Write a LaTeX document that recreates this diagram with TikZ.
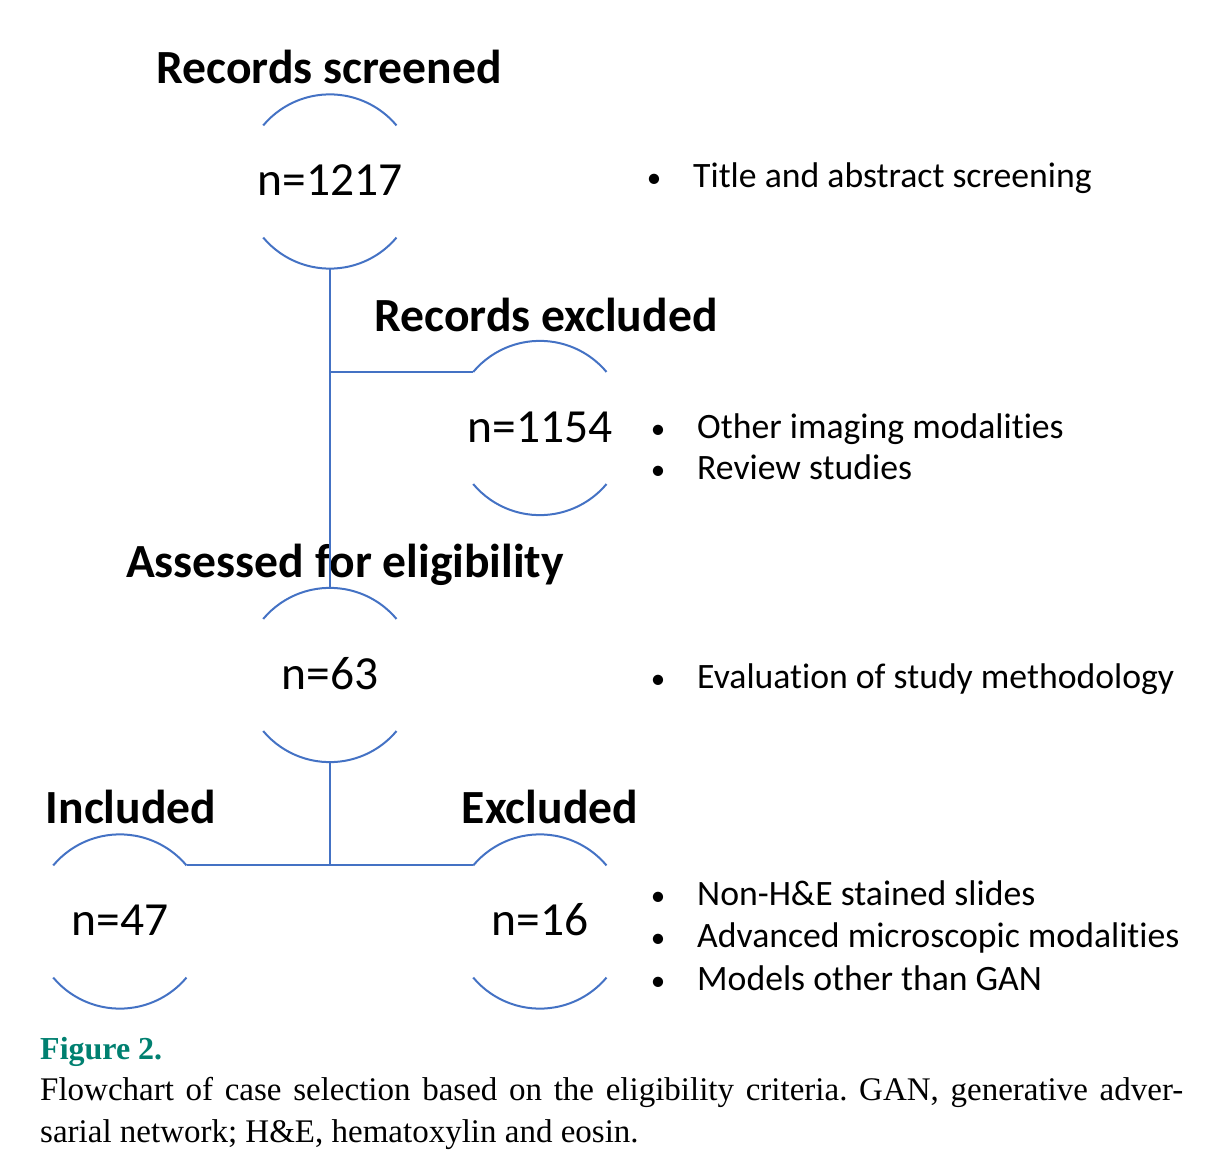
\documentclass[tikz,border=0pt]{standalone}
\usepackage{fontspec}
\setmainfont{Carlito}[Ligatures={NoCommon}]
\newfontfamily\capfont{Liberation Serif}
\definecolor{lineblue}{RGB}{68,114,196}
\definecolor{figteal}{RGB}{0,128,112}
\frenchspacing
\begin{document}
\begin{tikzpicture}[x=1pt,y=1pt,
  ring/.style={circle,draw=none,minimum size=174pt,inner sep=0pt},
  arcline/.style={draw=lineblue,line width=2pt},
  conn/.style={draw=lineblue,line width=2pt},
  head/.style={inner sep=0pt,anchor=base,font=\fontsize{47.6}{50}\selectfont\bfseries},
  count/.style={inner sep=0pt,anchor=base,font=\fontsize{47.5}{50}\selectfont},
  bul/.style={inner sep=0pt,anchor=base,font=\fontsize{29}{40}\selectfont},
  item/.style={inner sep=0pt,anchor=base west,font=\fontsize{35.7}{40}\selectfont},
  captxt/.style={inner sep=0pt,anchor=base west,font=\capfont\fontsize{33}{40}\selectfont}
]
\useasboundingbox (0,0) rectangle (1210,-1174);

% rings
\node[ring] (s1) at (330,-181.5) {};
\node[ring] (s2) at (540,-428) {};
\node[ring] (s3) at (330,-675) {};
\node[ring] (s4) at (120,-921.5) {};
\node[ring] (s5) at (540,-921.5) {};

% headings
\node[head] (h1) at (329,-84) {Records screened};
\node[head] (h2) at (546,-331) {Records excluded};
\node[head] (h3) at (345,-577) {Assessed for eligibility};
\node[head] (h4) at (131,-823) {Included};
\node[head] (h5) at (550,-823) {Excluded};

% counts
\node[count] (n1) at (330,-196) {n=1217};
\node[count] (n2) at (540,-442) {n=1154};
\node[count] (n3) at (330,-689) {n=63};
\node[count] (n4) at (120,-935) {n=47};
\node[count] (n5) at (540,-935) {n=16};

% arcs
\foreach \s in {s1,s2,s3,s4,s5}{
  \draw[arcline] (\s.140) arc (140:40:87);
  \draw[arcline] (\s.220) arc (220:320:87);
}

% connectors
\coordinate (j1) at (s1.south |- s2.140);
\coordinate (j2) at (s3.south |- s4.40);
\draw[conn] (s1.south) -- (s3.north);
\draw[conn] (j1) -- (s2.140);
\draw[conn] (s3.south) -- (j2);
\draw[conn] (s4.40) -- (s5.140);

% bullet lists
\node[bul] (b1) at (654,-188) {•};
\node[item] (t1) at (693,-188) {Title and abstract screening};
\node[bul] (b2) at (658,-438) {•};
\node[item] (t2) at (697,-438) {Other imaging modalities};
\node[bul] (b3) at (658,-479) {•};
\node[item] (t3) at (697,-479) {Review studies};
\node[bul] (b4) at (658,-688) {•};
\node[item] (t4) at (697,-688) {Evaluation of study methodology};
\node[bul] (b5) at (658,-905) {•};
\node[item] (t5) at (697,-905) {Non-H\&E stained slides};
\node[bul] (b6) at (658,-947) {•};
\node[item] (t6) at (697,-947) {Advanced microscopic modalities};
\node[bul] (b7) at (658,-990) {•};
\node[item] (t7) at (697,-990) {Models other than GAN};

% caption
\node[captxt,text=figteal,font=\capfont\fontsize{32}{40}\selectfont\bfseries] (fig) at (40,-1059) {Figure 2.};
\node[captxt] (c1) at (40,-1100) {\makebox[1143pt][s]{Flowchart of case selection based on the eligibility criteria. GAN, generative adver-}};
\node[captxt] (c2) at (40,-1142) {sarial network; H\&E, hematoxylin and eosin.};
\end{tikzpicture}
\end{document}
